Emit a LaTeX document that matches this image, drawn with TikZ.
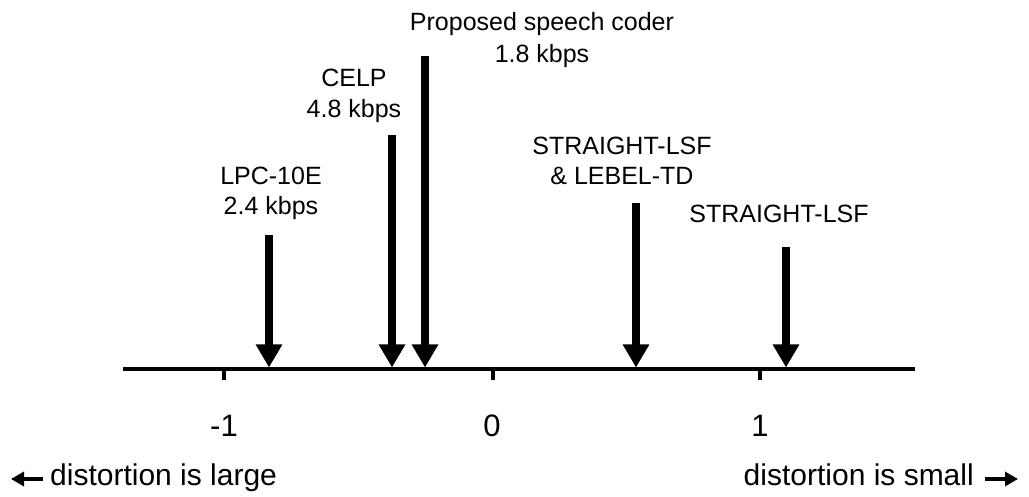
\documentclass[tikz,border=0pt]{standalone}
\usepackage{fontspec}
\setmainfont{Liberation Sans}
\usetikzlibrary{arrows.meta}
\tikzset{
  lbl/.style={inner sep=0pt, anchor=base, font=\fontsize{25}{30}\selectfont},
  big/.style={inner sep=0pt, anchor=base, font=\fontsize{31}{36}\selectfont},
  pointer/.style={line width=7.5pt, -{Triangle[width=25pt,length=23pt]}},
  axisline/.style={line width=3.5pt},
  tickmark/.style={line width=4.5pt},
  dirarrow/.style={line width=4.5pt, -{Triangle[width=14pt,length=13pt]}}
}
\begin{document}
\begin{tikzpicture}[x=1pt,y=-1pt]
\useasboundingbox (0,0) rectangle (1029,497);
% axis
\coordinate (axL) at (123,369);
\coordinate (axR) at (915,369);
\draw[axisline] (axL) -- (axR);
\coordinate (tA) at (224,369); \coordinate (tAe) at (224,380);
\coordinate (tB) at (493,369); \coordinate (tBe) at (493,380);
\coordinate (tC) at (760,369); \coordinate (tCe) at (760,380);
\draw[tickmark] (tA) -- (tAe);
\draw[tickmark] (tB) -- (tBe);
\draw[tickmark] (tC) -- (tCe);
\node[big] (nm1) at (224,436) {-1};
\node[big] (n0) at (492,436) {0};
\node[big] (np1) at (760,436) {1};
% arrows
\coordinate (lpcTop) at (269,235); \coordinate (lpcTip) at (269,367.5);
\coordinate (celpTop) at (392,135); \coordinate (celpTip) at (392,367.5);
\coordinate (propTop) at (425,56); \coordinate (propTip) at (425,367.5);
\coordinate (sllTop) at (636,203); \coordinate (sllTip) at (636,367.5);
\coordinate (slTop) at (786,247); \coordinate (slTip) at (786,367.5);
\draw[pointer] (lpcTop) -- (lpcTip);
\draw[pointer] (celpTop) -- (celpTip);
\draw[pointer] (propTop) -- (propTip);
\draw[pointer] (sllTop) -- (sllTip);
\draw[pointer] (slTop) -- (slTip);
% labels
\node[lbl] (lpc1) at (271,185) {LPC-10E};
\node[lbl] (lpc2) at (271,215) {2.4 kbps};
\node[lbl] (celp1) at (354,87) {CELP};
\node[lbl] (celp2) at (354,118) {4.8 kbps};
\node[lbl] (prop1) at (542,31) {Proposed speech coder};
\node[lbl] (prop2) at (542,63) {1.8 kbps};
\node[lbl] (sll1) at (622,155) {STRAIGHT-LSF};
\node[lbl] (sll2) at (622,185) {\& LEBEL-TD};
\node[lbl] (sl1) at (779,223) {STRAIGHT-LSF};
% bottom
\node[big, anchor=base west, font=\fontsize{30}{36}\selectfont] (large) at (50,485) {distortion is large};
\node[big, anchor=base east, font=\fontsize{30}{36}\selectfont] (small) at (974,485) {distortion is small};
\coordinate (largeEnd) at (11,479);
\coordinate (smallEnd) at (1018,479);
\draw[dirarrow] (large.west |- largeEnd) ++(-7,0) coordinate (largeStart) -- (largeEnd);
\draw[dirarrow] (small.east |- smallEnd) ++(11,0) coordinate (smallStart) -- (smallEnd);
\end{tikzpicture}
\end{document}
